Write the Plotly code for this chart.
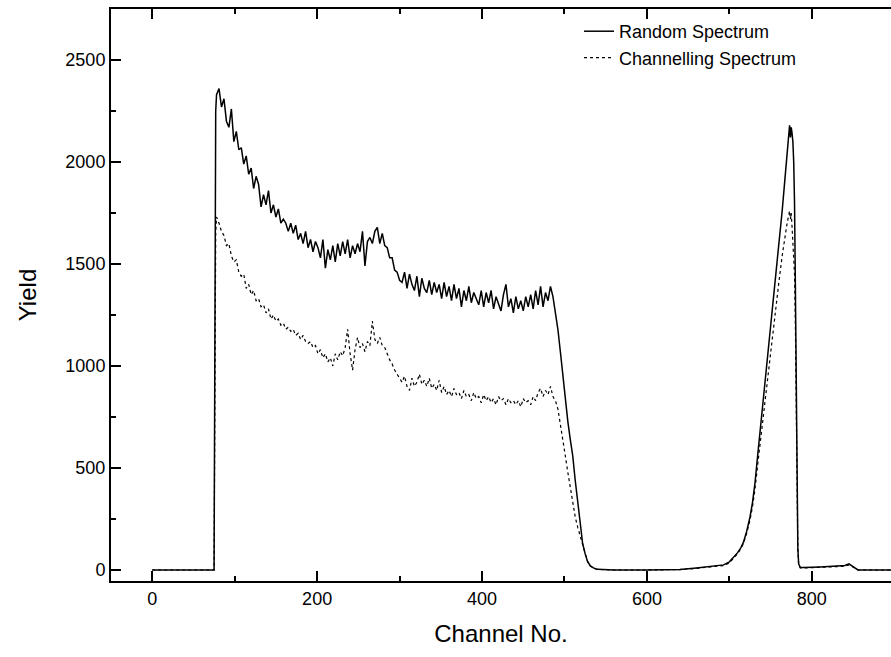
import plotly.graph_objects as go

# ---- data ----
rand_ch = [0, 40, 74, 75, 77,
           78, 81, 84, 87, 90, 93, 96, 99, 102, 105, 108, 111, 114, 117, 120, 123, 126, 129,
           132, 135, 138, 141, 144, 147, 150, 153, 156, 159, 162, 165, 168, 171, 174, 177,
           180, 183, 186, 189, 192, 195, 198, 201, 204, 207, 210, 213, 216, 219, 222, 225,
           228, 231, 234, 237, 240, 243, 246, 249, 252, 255, 258, 261, 264, 267, 270, 273,
           276, 279, 282, 285, 288, 291, 294, 297, 300, 303, 306, 309, 312, 315, 318, 321,
           324, 327, 330, 333, 336, 339, 342, 345, 348, 351, 354, 357, 360, 363, 366, 369,
           372, 375, 378, 381, 384, 387, 390, 393, 396, 399, 402, 405, 408, 411, 414, 417,
           420, 423, 426, 429, 432, 435, 438, 441, 444, 447, 450, 453, 456, 459, 462, 465,
           468, 471, 474, 477, 480, 483, 486, 489, 492, 495, 498,
           501, 504, 507, 510, 513, 516, 519, 522, 525, 528, 531, 535, 540, 560, 600, 640,
           660, 680, 693, 700, 705, 710, 714, 717, 721, 725, 728, 731, 735, 740, 745, 750,
           755, 760, 764, 767, 770, 772, 773, 774, 775, 776, 777, 778, 779, 780, 781, 782,
           783, 784, 786, 790, 800, 810, 820, 830, 840, 845, 848, 852, 856, 870, 900]
rand_y = [0, 0, 0, 0, 2250,
          2330, 2360, 2270, 2310, 2200, 2170, 2260, 2100, 2150, 2060, 2070, 1990, 2030, 1940, 1970, 1870, 1930, 1890,
          1780, 1840, 1790, 1860, 1750, 1790, 1730, 1770, 1700, 1720, 1700, 1660, 1700, 1650, 1690, 1620,
          1650, 1600, 1660, 1580, 1620, 1560, 1610, 1580, 1530, 1620, 1480, 1570, 1520, 1590, 1510, 1600,
          1540, 1610, 1550, 1620, 1530, 1590, 1550, 1600, 1560, 1660, 1490, 1610, 1630, 1600, 1660, 1680,
          1600, 1650, 1590, 1580, 1530, 1530, 1470, 1460, 1420, 1410, 1460, 1380, 1450, 1400, 1370, 1440,
          1340, 1430, 1380, 1360, 1420, 1350, 1410, 1360, 1400, 1330, 1410, 1340, 1390, 1320, 1400, 1330,
          1380, 1290, 1370, 1320, 1390, 1310, 1360, 1330, 1300, 1370, 1290, 1360, 1310, 1370, 1280, 1340,
          1300, 1270, 1350, 1400, 1290, 1330, 1260, 1340, 1280, 1320, 1270, 1340, 1290, 1350, 1280, 1370,
          1300, 1390, 1290, 1360, 1320, 1390, 1340, 1260, 1180, 1070, 950,
          820, 730, 640, 560, 440, 330, 220, 130, 80, 42, 22, 10, 3, 0, 0, 2,
          10, 18, 25, 40, 60, 85, 110, 135, 190, 260, 330, 425, 590, 790, 990, 1190,
          1390, 1580, 1760, 1900, 2060, 2150, 2180, 2120, 2170, 2140, 2100, 2000, 1800, 1400, 900, 350,
          110, 30, 12, 12, 15, 15, 17, 18, 22, 30, 22, 8, 0, 0, 0]

chan_ch = list(rand_ch)
chan_y = [0, 0, 0, 0, 1650,
          1730, 1700, 1660, 1640, 1590, 1600, 1540, 1510, 1520, 1460, 1440, 1450, 1380, 1400, 1350, 1370, 1320, 1330,
          1290, 1300, 1260, 1280, 1230, 1250, 1220, 1230, 1200, 1210, 1180, 1190, 1170, 1180, 1150, 1160,
          1130, 1150, 1120, 1110, 1120, 1090, 1100, 1060, 1080, 1040, 1060, 1020, 1040, 1000, 1060, 1030,
          1070, 1050, 1090, 1180, 1060, 980, 1080, 1140, 1090, 1110, 1070, 1120, 1100, 1220, 1130, 1110,
          1140, 1100, 1090, 1060, 1030, 1010, 980, 960, 940, 920, 950, 900, 880, 940, 900, 920,
          960, 910, 930, 900, 940, 890, 910, 880, 930, 870, 900, 860, 880, 850, 890, 860,
          870, 840, 880, 850, 860, 830, 870, 840, 850, 820, 860, 830, 850, 820, 840, 810,
          850, 830, 840, 810, 840, 820, 830, 810, 830, 800, 840, 820, 830, 810, 850, 830,
          870, 890, 850, 880, 860, 900, 850, 830, 790, 720, 650,
          560, 480, 400, 320, 260, 210, 165, 120, 75, 40, 20, 8, 3, 0, 0, 2,
          8, 15, 22, 35, 55, 80, 105, 130, 180, 245, 310, 395, 540, 720, 900, 1080,
          1250, 1410, 1540, 1630, 1700, 1740, 1760, 1720, 1750, 1680, 1620, 1550, 1450, 1200, 800, 320,
          100, 28, 10, 10, 12, 13, 14, 15, 18, 25, 18, 6, 0, 0, 0]

x_ticks = [0, 200, 400, 600, 800]
y_ticks = [0, 500, 1000, 1500, 2000, 2500]

FONT = "Arial, Liberation Sans, Helvetica, sans-serif"

fig = go.Figure()
fig.add_trace(go.Scatter(x=rand_ch, y=rand_y, mode="lines", name="Random Spectrum",
                         line=dict(color="black", width=1.5)))
fig.add_trace(go.Scatter(x=chan_ch, y=chan_y, mode="lines", name="Channelling Spectrum",
                         line=dict(color="black", width=1.2, dash="dot")))

fig.update_layout(
    width=891, height=657,
    margin=dict(l=111, r=0, t=9, b=76),
    paper_bgcolor="white", plot_bgcolor="white",
    font=dict(family=FONT, color="black", size=18),
    showlegend=True,
    legend=dict(x=0.6, y=0.993, xanchor="left", yanchor="top",
                bgcolor="rgba(0,0,0,0)", borderwidth=0,
                font=dict(size=18, family=FONT), itemwidth=30, tracegroupgap=0),
    xaxis=dict(range=[-50, 896], tickvals=x_ticks, ticks="inside", ticklen=10, tickwidth=2,
               tickcolor="black", showline=True, linecolor="black", linewidth=2,
               mirror="ticks", showgrid=False, zeroline=False,
               tickfont=dict(size=18, family=FONT),
               minor=dict(dtick=100, tick0=0, ticks="inside", ticklen=5, tickwidth=1.5,
                          tickcolor="black", showgrid=False),
               title=dict(text="Channel No.", font=dict(size=24, family=FONT), standoff=18)),
    yaxis=dict(range=[-54, 2750], tickvals=y_ticks, ticks="inside", ticklen=10, tickwidth=2,
               tickcolor="black", showline=True, linecolor="black", linewidth=2,
               mirror=False, showgrid=False, zeroline=False,
               tickfont=dict(size=18, family=FONT),
               minor=dict(dtick=250, tick0=0, ticks="inside", ticklen=5, tickwidth=1.5,
                          tickcolor="black", showgrid=False),
               title=dict(text="Yield", font=dict(size=24, family=FONT), standoff=22)),
)

fig.write_html("out.html")
